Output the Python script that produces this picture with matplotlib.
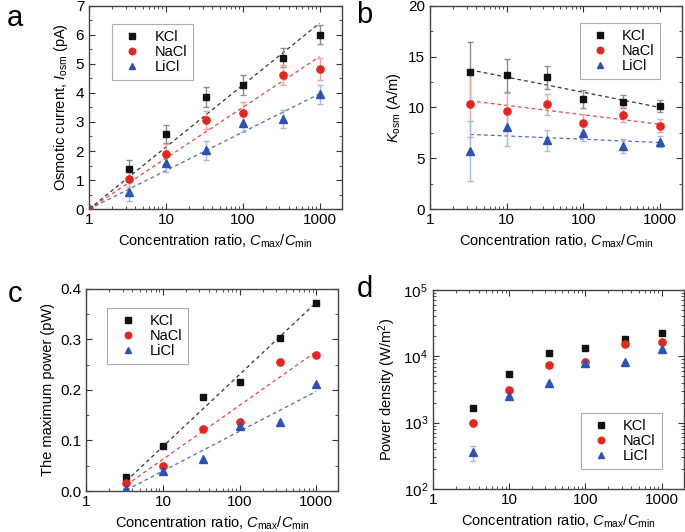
import numpy as np
import matplotlib
matplotlib.use('Agg')
import matplotlib.pyplot as plt
from matplotlib.lines import Line2D
from matplotlib.ticker import MultipleLocator, LogLocator, FixedLocator, NullFormatter

plt.rcParams['font.family'] = ['Liberation Sans', 'DejaVu Sans']
plt.rcParams['mathtext.fontset'] = 'custom'
plt.rcParams['mathtext.rm'] = 'Liberation Sans'
plt.rcParams['mathtext.it'] = 'Liberation Sans:italic'
plt.rcParams['mathtext.bf'] = 'Liberation Sans:bold'
plt.rcParams['font.size'] = 10.5

# data
ratio = [1, 3.33, 10, 33.3, 100, 333, 1000]
ratio_b = [3.33, 10, 33.3, 100, 333, 1000]
salts = ['KCl', 'NaCl', 'LiCl']

# a: osmotic current (pA)
i_kcl = [0, 1.38, 2.58, 3.87, 4.27, 5.22, 6.0]
i_kcl_err = [0, 0.3, 0.3, 0.35, 0.35, 0.33, 0.33]
i_nacl = [0, 1.05, 1.9, 3.07, 3.32, 4.62, 4.82]
i_nacl_err = [0, 0.3, 0.35, 0.3, 0.37, 0.35, 0.37]
i_licl = [0, 0.6, 1.58, 2.02, 2.97, 3.1, 3.95]
i_licl_err = [0, 0.32, 0.3, 0.32, 0.3, 0.32, 0.32]
i_fit_end = [6.4, 5.25, 3.97]  # fitted value at ratio 1000 (fit through 0 at ratio 1)

# b: K_osm (A/m)
k_kcl = [13.5, 13.15, 12.95, 10.85, 10.55, 10.15]
k_kcl_err = [2.95, 1.6, 1.1, 0.9, 0.65, 0.6]
k_nacl = [10.3, 9.65, 10.3, 8.45, 9.3, 8.2]
k_nacl_err = [3.2, 1.75, 1.0, 0.9, 0.7, 0.65]
k_licl = [5.7, 8.05, 6.75, 7.5, 6.2, 6.65]
k_licl_err = [2.95, 1.8, 1.05, 0.8, 0.65, 0.55]
k_fit = [(13.7, 10.0), (10.65, 8.35), (7.35, 6.55)]

# c: maximum power (pW)
p_kcl = [0.027, 0.089, 0.187, 0.215, 0.302, 0.373]
p_nacl = [0.016, 0.050, 0.123, 0.136, 0.255, 0.269]
p_licl = [0.005, 0.040, 0.063, 0.129, 0.136, 0.211]
p_fit = [(0.02, 0.373), (0.012, 0.276), (0.002, 0.197)]

# d: power density (W/m2)
d_kcl = [1650, 5400, 11300, 13100, 18300, 22700]
d_nacl = [1000, 3100, 7500, 8200, 15400, 16300]
d_licl = [363, 2500, 3970, 8050, 8200, 13000]
d_licl_err = [[98, 0, 0, 0, 0, 0], [87, 0, 0, 0, 0, 0]]

colors = ['#111111', '#e4261f', '#2d52b5']
ecolors = ['#8c8c8c', '#f0a3a0', '#a6b8e4']
markers = ['s', 'o', '^']
msizes = [4.5, 5.2, 5.5]

fig = plt.figure(figsize=(6.85, 5.32), dpi=100)
ax_a = fig.add_axes([0.130, 0.607, 0.369, 0.382])
ax_b = fig.add_axes([0.628, 0.607, 0.368, 0.382])
ax_c = fig.add_axes([0.126, 0.077, 0.368, 0.380])
ax_d = fig.add_axes([0.632, 0.081, 0.366, 0.374])

xlabel = r'Concentration ratio, $\mathit{C}_{\rm max}/\mathit{C}_{\rm min}$'


def style(ax):
    ax.set_xscale('log')
    ax.set_xlim(1, 1950)
    ax.xaxis.set_major_locator(FixedLocator([1, 10, 100, 1000]))
    ax.set_xticklabels(['1', '10', '100', '1000'])
    ax.xaxis.set_minor_locator(LogLocator(base=10, subs=np.arange(2, 10)))
    ax.xaxis.set_minor_formatter(NullFormatter())
    ax.tick_params(which='both', direction='in', top=True, right=True,
                   colors='#333333', labelcolor='black', labelsize=11)
    ax.tick_params(which='major', length=4, width=0.8)
    ax.tick_params(which='minor', length=2, width=0.6)
    ax.tick_params(axis='x', which='major', pad=3)
    for s in ax.spines.values():
        s.set_color('#444444')
        s.set_linewidth(1.0)
    ax.set_xlabel(xlabel, fontsize=10.5, labelpad=4)


def legend(ax, loc, anchor):
    handles = [Line2D([], [], ls='none', marker=m, color=c, ms=ms * 0.9)
               for m, c, ms in zip(markers, colors, msizes)]
    leg = ax.legend(handles, salts, loc=loc, bbox_to_anchor=anchor, fancybox=False,
                    fontsize=10.5, handletextpad=0.5, borderpad=0.4, labelspacing=0.08,
                    handlelength=2.0, borderaxespad=0)
    leg.get_frame().set_edgecolor('#999999')
    leg.get_frame().set_linewidth(0.8)


# panel a
x_fit = np.array([1, 1000])
for ys, es, c, ec, m, ms, lab, yend in zip([i_kcl, i_nacl, i_licl], [i_kcl_err, i_nacl_err, i_licl_err],
                                           colors, ecolors, markers, msizes, salts, i_fit_end):
    ax_a.plot(x_fit, [0, yend], ls=(0, (3, 2.5)), color=c, lw=0.9, alpha=0.85)
    ax_a.errorbar(ratio, ys, yerr=es, fmt=m, color=c, ecolor=ec, ms=ms, capsize=2.5,
                  elinewidth=1, capthick=1, zorder=3)
style(ax_a)
ax_a.set_ylim(0, 7)
ax_a.yaxis.set_major_locator(MultipleLocator(1))
ax_a.yaxis.set_minor_locator(MultipleLocator(0.5))
ax_a.set_ylabel(r'Osmotic current, $\mathit{I}_{\rm osm}$ (pA)', fontsize=10.5)
legend(ax_a, 'upper left', (0.091, 0.911))

# panel b
xb = np.array([3.33, 1000])
for ys, es, c, ec, m, ms, lab, fit in zip([k_kcl, k_nacl, k_licl], [k_kcl_err, k_nacl_err, k_licl_err],
                                          colors, ecolors, markers, msizes, salts, k_fit):
    ax_b.plot(xb, fit, ls=(0, (3, 2.5)), color=c, lw=0.9, alpha=0.85)
    ax_b.errorbar(ratio_b, ys, yerr=es, fmt=m, color=c, ecolor=ec, ms=ms, capsize=2.5,
                  elinewidth=1, capthick=1, zorder=3)
style(ax_b)
ax_b.set_ylim(0, 20)
ax_b.yaxis.set_major_locator(MultipleLocator(5))
ax_b.yaxis.set_minor_locator(MultipleLocator(2.5))
ax_b.set_ylabel(r'$\mathit{K}_{\rm osm}$ (A/m)', fontsize=10.5)
legend(ax_b, 'upper right', (0.913, 0.916))

# panel c
for ys, c, m, ms, lab, fit in zip([p_kcl, p_nacl, p_licl], colors, markers, msizes, salts, p_fit):
    ax_c.plot(xb, fit, ls=(0, (3, 2.5)), color=c, lw=0.9, alpha=0.85)
    ax_c.plot(ratio_b, ys, m, color=c, ms=ms, zorder=3)
style(ax_c)
ax_c.set_ylim(0, 0.4)
ax_c.yaxis.set_major_locator(MultipleLocator(0.1))
ax_c.yaxis.set_minor_locator(MultipleLocator(0.05))
ax_c.set_ylabel('The maximum power (pW)', fontsize=10.5)
legend(ax_c, 'upper left', (0.083, 0.906))

# panel d
for ys, c, ec, m, ms, lab in zip([d_kcl, d_nacl, d_licl], colors, ecolors, markers, msizes, salts):
    if lab == 'LiCl':
        ax_d.errorbar(ratio_b, ys, yerr=d_licl_err, fmt=m, color=c, ecolor=ec, ms=ms,
                      capsize=2.5, elinewidth=1, capthick=1, zorder=3)
    else:
        ax_d.plot(ratio_b, ys, m, color=c, ms=ms, zorder=3)
ax_d.set_yscale('log')
ax_d.set_ylim(100, 1e5)
ax_d.yaxis.set_minor_locator(LogLocator(base=10, subs=np.arange(2, 10)))
ax_d.yaxis.set_minor_formatter(NullFormatter())
style(ax_d)
ax_d.set_ylabel(r'Power density (W/m$^2$)', fontsize=10.5)
legend(ax_d, 'lower right', (0.912, 0.10))

for letter, (lx, ly) in zip('abcd', [(0.022, 0.966), (0.532, 0.972), (0.022, 0.447), (0.532, 0.457)]):
    fig.text(lx, ly, letter, fontsize=21, ha='center', va='center')

fig.savefig('out.png', dpi=100)
